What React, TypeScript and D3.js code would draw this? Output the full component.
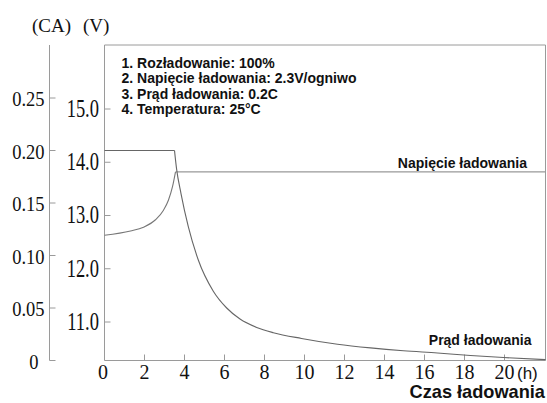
import React from "react";
import * as d3 from "d3";

// charging current (CA) vs hours
const currentHours = [3.5, 3.6, 3.825, 4.19, 4.69, 5.44, 6.11, 6.775, 7.61, 8.44, 9.85, 11.65, 13.3, 14.95, 16.65, 18.3, 19.95, 22.05];
const currentValues = [0.2, 0.183, 0.159, 0.1274, 0.0957, 0.066, 0.05, 0.0395, 0.0315, 0.0265, 0.021, 0.0155, 0.012, 0.0093, 0.0072, 0.0048, 0.0028, 0.0008];
const currentFlat = 0.2;

// charging voltage (V) vs hours
const voltageHours = [0, 1.3, 1.95, 2.55, 2.95, 3.2, 3.4, 3.55];
const voltageValues = [12.63, 12.71, 12.78, 12.92, 13.1, 13.29, 13.54, 13.82];
const voltageFlat = 13.82;

const xTicks = [0, 2, 4, 6, 8, 10, 12, 14, 16, 18, 20];
const caTicks = [0, 0.05, 0.1, 0.15, 0.2, 0.25];
const vTicks = [11, 12, 13, 14, 15];

const notes = [
  "1. Rozładowanie: 100%",
  "2. Napięcie ładowania: 2.3V/ogniwo",
  "3. Prąd ładowania: 0.2C",
  "4. Temperatura: 25°C",
];

const SERIF = "'Liberation Serif', 'Times New Roman', serif";
const SANS = "'Liberation Sans', Arial, sans-serif";

const App: React.FC = () => {
  const left = 104.5;
  const right = 545.5;
  const top = 45;
  const bottom = 360.5;
  const caAxisX = 49.5;

  const x = d3.scaleLinear().domain([0, 20]).range([104.5, 504.5]);
  const yCA = d3.scaleLinear().domain([0, 0.25]).range([360.5, 98]);
  const yV = d3.scaleLinear().domain([11, 15]).range([322, 109]);
  const xMax = x.invert(right);

  const smooth = d3.line<[number, number]>().curve(d3.curveMonotoneX);
  const straight = d3.line<[number, number]>();

  const currentFlatPath = straight([
    [x(0), yCA(currentFlat)],
    [x(currentHours[0]), yCA(currentFlat)],
  ]) as string;
  const currentDecayPath = smooth(
    currentHours.map((h, i) => [x(h), yCA(currentValues[i])] as [number, number])
  ) as string;

  const voltageRisePath = smooth(
    voltageHours.map((h, i) => [x(h), yV(voltageValues[i])] as [number, number])
  ) as string;
  const voltageFlatPath = straight([
    [x(voltageHours[voltageHours.length - 1]), yV(voltageFlat)],
    [x(xMax), yV(voltageFlat)],
  ]) as string;

  const frame = "#9a9a9a";

  return (
    <svg
      width={547}
      height={403}
      style={{ position: "absolute", left: 0, top: 0, background: "#fff" }}
    >
      {/* frame */}
      <path
        d={`M${left},${top}H${right}V${bottom}H${left}Z`}
        fill="none"
        stroke={frame}
        strokeWidth={1}
      />
      {/* CA axis */}
      <line x1={caAxisX} x2={caAxisX} y1={top} y2={bottom} stroke={frame} />
      {caTicks.map((t) => (
        <g key={"ca" + t}>
          <line x1={caAxisX} x2={caAxisX + 6} y1={yCA(t)} y2={yCA(t)} stroke={frame} />
          <text
            transform={`translate(${t === 0 ? 38.5 : 44.5},${yCA(t) + 1.5}) scale(1,1.1)`}
            textAnchor="end"
            dominantBaseline="central"
            fontFamily={SERIF}
            fontSize={18.5}
            fill="#111"
          >
            {t === 0 ? "0" : t.toFixed(2)}
          </text>
        </g>
      ))}
      {/* V axis ticks */}
      {vTicks.map((t) => (
        <g key={"v" + t}>
          <line x1={left} x2={left + 6} y1={yV(t)} y2={yV(t)} stroke={frame} />
          <text
            transform={`translate(99,${yV(t)}) scale(1,1.32)`}
            textAnchor="end"
            dominantBaseline="central"
            fontFamily={SERIF}
            fontSize={18.5}
            fill="#111"
          >
            {t.toFixed(1)}
          </text>
        </g>
      ))}
      {/* x axis ticks */}
      {xTicks.map((t) => (
        <g key={"x" + t}>
          {t > 0 && (
            <line x1={x(t)} x2={x(t)} y1={bottom} y2={bottom - 6} stroke={frame} />
          )}
          <text
            x={x(t) - (t === 0 ? 1.5 : 0)}
            y={379}
            textAnchor="middle"
            fontFamily={SERIF}
            fontSize={20}
            fill="#111"
          >
            {t}
          </text>
        </g>
      ))}
      <text x={517} y={379} fontFamily={SANS} fontSize={17} fill="#111">
        (h)
      </text>
      <text
        x={545}
        y={398}
        textAnchor="end"
        fontFamily={SANS}
        fontWeight="bold"
        fontSize={18.2}
        fill="#111"
      >
        Czas ładowania
      </text>

      {/* unit labels */}
      <text x={32} y={32} fontFamily={SERIF} fontSize={19} fill="#111">
        (CA)
      </text>
      <text x={83} y={32} fontFamily={SERIF} fontSize={19} fill="#111">
        (V)
      </text>

      {/* curves */}
      <path d={voltageRisePath} fill="none" stroke="#777" strokeWidth={1.1} />
      <path d={voltageFlatPath} fill="none" stroke="#999" strokeWidth={1.1} />
      <path d={currentFlatPath} fill="none" stroke="#666" strokeWidth={1.1} />
      <path d={currentDecayPath} fill="none" stroke="#666" strokeWidth={1.1} />

      {/* notes */}
      {notes.map((n, i) => (
        <text
          key={n}
          x={121.5}
          y={67.5 + i * 15.6}
          fontFamily={SANS}
          fontWeight="bold"
          fontSize={14}
          fill="#111"
        >
          {n}
        </text>
      ))}
      <text
        x={527}
        y={167.5}
        textAnchor="end"
        fontFamily={SANS}
        fontWeight="bold"
        fontSize={14}
        fill="#111"
      >
        Napięcie ładowania
      </text>
      <text
        x={531.5}
        y={345}
        textAnchor="end"
        fontFamily={SANS}
        fontWeight="bold"
        fontSize={14}
        fill="#111"
      >
        Prąd ładowania
      </text>
    </svg>
  );
};

export default App;
